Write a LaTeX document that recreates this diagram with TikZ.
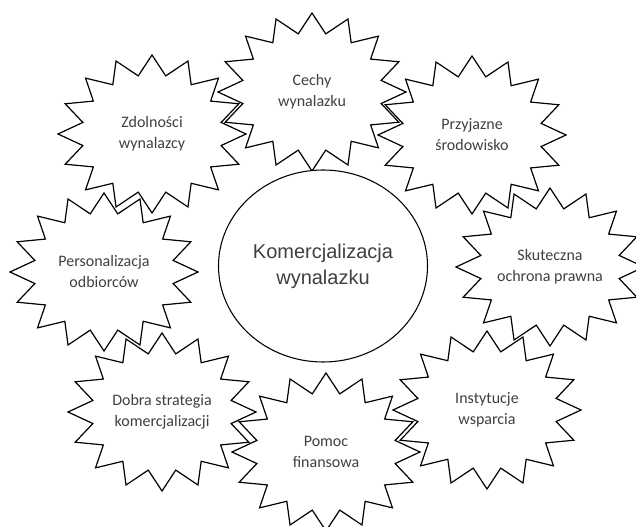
\documentclass[tikz,border=0pt]{standalone}
\usepackage{fontspec}
\setmainfont{Carlito}
\newfontfamily\arialfont{Liberation Sans}
\usetikzlibrary{shapes.geometric}
\definecolor{ink}{HTML}{000000}
\definecolor{labelgrey}{HTML}{404040}
\tikzset{
  burstedge/.style={draw=ink, line width=0.9pt, fill=white, line join=miter},
  burstlabel/.style={font=\fontsize{12pt}{15.75pt}\selectfont, text=labelgrey,
                     align=center, inner sep=0pt},
  hub/.style={ellipse, draw=ink, line width=0.8pt, fill=white, inner sep=0pt,
              minimum width=156.75pt, minimum height=144pt, text=labelgrey,
              align=center, font=\arialfont\fontsize{15pt}{19.5pt}\selectfont},
}

\begin{document}
\begin{tikzpicture}[x=0.75pt, y=-0.75pt]

\useasboundingbox (0,0) rectangle (636,527);
\clip (0,0) rectangle (636,527);

% #1 = node name, #2 = x, #3 = y, #4 = label
\newcommand{\burst}[4]{%
  \draw[burstedge, shift={(#2,#3)}] (0:94 and 79)
    \foreach \k in {1,...,15} {-- ({\k*22.5-11.25}:70.5 and 59.25) -- ({\k*22.5}:94 and 79)}
    -- (348.75:70.5 and 59.25) -- cycle;
  \node[burstlabel] (#1) at (#2,#3) {#4};
}

% --- sixteen-point bursts round the hub ---
\burst{zdol}{152}{134}{Zdolności\\ wynalazcy}
\burst{przyj}{472}{135}{Przyjazne\\ środowisko}
\burst{cechy}{312}{92}{Cechy\\ wynalazku}
\burst{pers}{104}{272}{Personalizacja\\ odbiorców}
\burst{skut}{550}{267}{Skuteczna\\ ochrona prawna}
\burst{dobra}{162}{412}{Dobra strategia\\ komercjalizacji}
\burst{inst}{487}{410}{Instytucje\\ wsparcia}
\burst{pomoc}{326}{452}{Pomoc\\ finansowa}

% --- central ellipse ---
\node[hub] (komerc) at (323,266) {Komercjalizacja\\ wynalazku};

\end{tikzpicture}
\end{document}
